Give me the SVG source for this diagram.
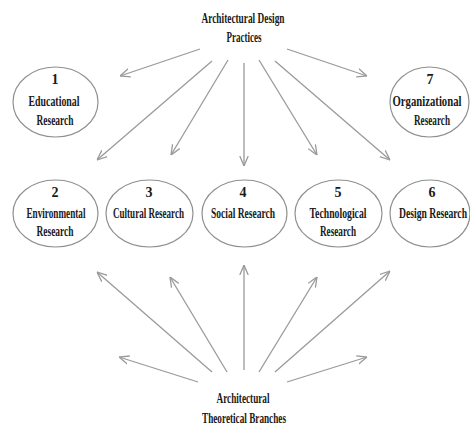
<svg xmlns="http://www.w3.org/2000/svg" width="470" height="425" viewBox="0 0 470 425">
<style>
.bg{fill:#ffffff}
.node ellipse{fill:#ffffff;stroke:#8f8f8f;stroke-width:1.2}
text{font-family:"Liberation Serif","Times New Roman",serif;font-size:14px;fill:#1a1a1a;text-anchor:middle;font-weight:bold}
.conn line{stroke:#9a9a9a;stroke-width:1.3;fill:none;marker-end:url(#ah)}
</style>
<defs>
<marker id="ah" viewBox="0 0 10 10" refX="10" refY="5" markerWidth="10" markerHeight="10" markerUnits="userSpaceOnUse" orient="auto">
<path d="M0,0.8 L10,5 L0,9.2" fill="none" stroke="#9a9a9a" stroke-width="1.3"/>
</marker>
</defs>
<rect class="bg" x="0" y="0" width="470" height="425"/>
<g id="connectors" class="conn">
<line x1="200" y1="49" x2="120" y2="76"/>
<line x1="212" y1="61" x2="97" y2="160"/>
<line x1="228" y1="60" x2="171" y2="155"/>
<line x1="244" y1="63" x2="244" y2="166"/>
<line x1="259" y1="60" x2="317" y2="155"/>
<line x1="275" y1="61" x2="390" y2="160"/>
<line x1="287" y1="49" x2="367" y2="76"/>
<line x1="198" y1="382" x2="119" y2="357"/>
<line x1="212" y1="372" x2="97" y2="272"/>
<line x1="227" y1="372" x2="170" y2="277"/>
<line x1="244" y1="370" x2="244" y2="265"/>
<line x1="259" y1="372" x2="317" y2="277"/>
<line x1="275" y1="372" x2="390" y2="271"/>
<line x1="287" y1="382" x2="367" y2="357"/>
</g>
<g id="top">
<text x="243" y="23" textLength="83" lengthAdjust="spacingAndGlyphs">Architectural Design</text>
<text x="244" y="42" textLength="35" lengthAdjust="spacingAndGlyphs">Practices</text>
</g>
<g id="bottom">
<text x="243" y="403" textLength="53" lengthAdjust="spacingAndGlyphs">Architectural</text>
<text x="244" y="423" textLength="84" lengthAdjust="spacingAndGlyphs">Theoretical Branches</text>
</g>
<g id="n1" class="node">
<ellipse cx="55.5" cy="102" rx="42.5" ry="35"/>
<text x="55" y="84">1</text>
<text x="54" y="106" textLength="51" lengthAdjust="spacingAndGlyphs">Educational</text>
<text x="55" y="125" textLength="37" lengthAdjust="spacingAndGlyphs">Research</text>
</g>
<g id="n7" class="node">
<ellipse cx="429.5" cy="102" rx="39.5" ry="35"/>
<text x="430" y="84">7</text>
<text x="427" y="106" textLength="69" lengthAdjust="spacingAndGlyphs">Organizational</text>
<text x="432" y="125" textLength="36" lengthAdjust="spacingAndGlyphs">Research</text>
</g>
<g id="n2" class="node">
<ellipse cx="55.5" cy="213.5" rx="42.5" ry="33.5"/>
<text x="55" y="197">2</text>
<text x="56" y="218" textLength="59" lengthAdjust="spacingAndGlyphs">Environmental</text>
<text x="55" y="236" textLength="37" lengthAdjust="spacingAndGlyphs">Research</text>
</g>
<g id="n3" class="node">
<ellipse cx="149.5" cy="213.5" rx="43.5" ry="33.5"/>
<text x="149" y="197">3</text>
<text x="148.5" y="218" textLength="71" lengthAdjust="spacingAndGlyphs">Cultural Research</text>
</g>
<g id="n4" class="node">
<ellipse cx="244.5" cy="213.5" rx="42.5" ry="33.5"/>
<text x="243" y="197">4</text>
<text x="243" y="218" textLength="64" lengthAdjust="spacingAndGlyphs">Social Research</text>
</g>
<g id="n5" class="node">
<ellipse cx="338.5" cy="213.5" rx="43.5" ry="33.5"/>
<text x="338" y="197">5</text>
<text x="338" y="218" textLength="57" lengthAdjust="spacingAndGlyphs">Technological</text>
<text x="338" y="236" textLength="36" lengthAdjust="spacingAndGlyphs">Research</text>
</g>
<g id="n6" class="node">
<ellipse cx="430" cy="213.5" rx="40" ry="33.5"/>
<text x="432" y="197">6</text>
<text x="433" y="218" textLength="68" lengthAdjust="spacingAndGlyphs">Design Research</text>
</g>
</svg>
